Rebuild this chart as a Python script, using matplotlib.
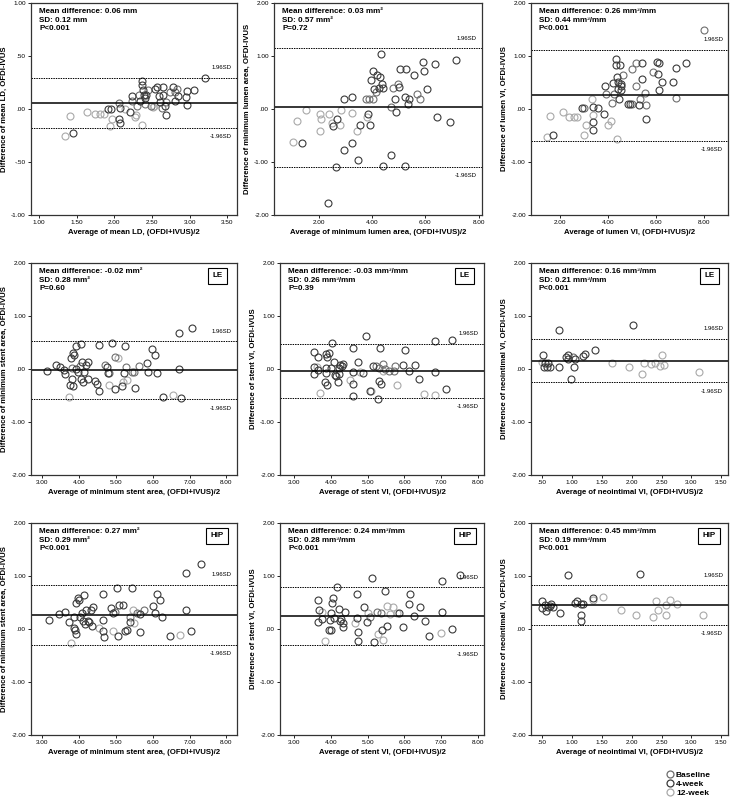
import matplotlib
matplotlib.use("Agg")
import matplotlib.pyplot as plt
from matplotlib.lines import Line2D
from matplotlib.ticker import FuncFormatter

plt.rcParams['font.family'] = ['Liberation Sans', 'DejaVu Sans']

# point groups: B = baseline, F = 4-week, T = 12-week
group_names = {"B": "Baseline", "F": "4-week", "T": "12-week"}
group_colors = {"B": "#6e6e6e", "F": "#3a3a3a", "T": "#a9a9a9"}

# (average, difference, group)
p1_pts = [(1.34,-0.25,"T"),(1.45,-0.23,"F"),(1.41,-0.07,"T"),(1.63,-0.03,"T"),(1.74,-0.05,"T"),
          (1.81,-0.05,"T"),(1.86,-0.05,"T"),(1.92,0.00,"F"),(1.95,0.00,"F"),(1.94,-0.16,"T"),
          (1.97,-0.09,"T"),(2.06,0.06,"B"),(2.07,0.01,"F"),(2.06,-0.09,"F"),(2.08,-0.13,"F"),
          (2.14,0.00,"T"),(2.21,-0.03,"F"),(2.23,0.12,"F"),(2.24,0.08,"B"),(2.27,-0.08,"T"),
          (2.28,-0.06,"T"),(2.30,0.03,"B"),(2.32,0.13,"B"),(2.34,0.08,"F"),(2.36,0.26,"F"),
          (2.37,0.23,"F"),(2.38,0.18,"F"),(2.39,0.13,"F"),(2.41,0.10,"F"),(2.41,0.05,"B"),
          (2.42,0.13,"F"),(2.37,-0.15,"T"),(2.45,0.18,"B"),(2.48,0.03,"B"),(2.51,0.02,"T"),
          (2.52,0.03,"T"),(2.54,0.19,"F"),(2.57,0.21,"F"),(2.59,0.12,"F"),(2.61,0.07,"F"),
          (2.63,0.01,"B"),(2.64,0.13,"F"),(2.65,0.21,"F"),(2.67,0.03,"F"),(2.68,-0.06,"F"),
          (2.68,0.07,"B"),(2.74,0.16,"B"),(2.78,0.21,"F"),(2.80,0.16,"B"),(2.83,0.19,"B"),
          (2.81,0.08,"F"),(2.84,0.12,"F"),(2.95,0.11,"F"),(2.97,0.17,"F"),(2.97,0.04,"F"),
          (3.06,0.18,"F"),(3.20,0.29,"F")]

p2_pts = [(1.03,-0.62,"T"),(1.35,-0.65,"F"),(1.19,-0.23,"T"),(1.53,-0.01,"T"),(2.04,-0.09,"T"),
          (2.08,-0.19,"T"),(2.04,-0.42,"T"),(2.38,-0.10,"T"),(2.50,-0.27,"T"),(2.54,-0.33,"F"),
          (2.67,-0.18,"F"),(2.64,-1.10,"F"),(2.35,-1.77,"F"),(2.83,-0.01,"T"),(2.79,-0.30,"T"),
          (2.93,0.18,"F"),(2.96,-0.77,"F"),(3.23,-0.07,"T"),(3.26,0.23,"F"),(3.26,-0.65,"F"),
          (3.42,-0.41,"T"),(3.48,-0.97,"F"),(3.54,-0.30,"F"),(3.76,0.19,"B"),(3.80,-0.16,"T"),
          (3.86,-0.09,"F"),(3.89,0.18,"B"),(3.92,-0.30,"F"),(3.95,0.55,"F"),(4.03,0.19,"B"),
          (4.05,0.72,"F"),(4.07,0.37,"F"),(4.15,0.33,"B"),(4.20,0.65,"F"),(4.26,0.39,"F"),
          (4.30,0.61,"F"),(4.33,1.03,"F"),(4.36,0.48,"F"),(4.40,0.40,"F"),(4.39,-1.07,"F"),
          (4.70,-0.87,"F"),(4.70,0.04,"B"),(4.78,0.39,"B"),(4.87,0.18,"F"),(4.91,-0.06,"F"),
          (4.97,0.47,"B"),(5.02,0.41,"F"),(5.06,0.76,"F"),(5.22,-1.07,"F"),(5.25,0.22,"F"),
          (5.27,0.76,"F"),(5.35,0.09,"F"),(5.40,0.18,"F"),(5.59,0.64,"F"),(5.69,0.29,"B"),
          (5.81,0.18,"B"),(5.90,0.89,"F"),(5.96,0.72,"F"),(6.06,0.38,"F"),(6.35,0.84,"F"),
          (6.44,-0.16,"F"),(6.91,-0.24,"F"),(7.16,0.93,"F")]

p3_pts = [(1.47,-0.52,"T"),(1.71,-0.49,"F"),(1.58,-0.14,"T"),(2.14,-0.06,"T"),(2.38,-0.15,"T"),
          (2.59,-0.15,"T"),(2.73,-0.16,"T"),(2.94,0.01,"F"),(3.01,0.01,"B"),(3.08,-0.30,"T"),
          (3.01,-0.49,"T"),(3.32,0.19,"T"),(3.38,0.04,"F"),(3.38,-0.11,"T"),(3.36,-0.24,"F"),
          (3.40,-0.40,"F"),(3.57,0.01,"F"),(3.85,-0.10,"F"),(3.92,0.29,"B"),(3.88,0.43,"F"),
          (4.02,-0.30,"T"),(4.11,-0.23,"T"),(4.16,0.11,"B"),(4.21,0.50,"F"),(4.25,0.29,"B"),
          (4.35,0.95,"F"),(4.36,0.61,"F"),(4.35,0.83,"F"),(4.39,-0.57,"T"),(4.42,0.51,"F"),
          (4.44,0.37,"F"),(4.46,0.18,"F"),(4.49,0.83,"F"),(4.53,0.48,"F"),(4.56,0.43,"F"),
          (4.56,0.36,"F"),(4.65,0.64,"B"),(5.01,0.76,"B"),(5.19,0.86,"B"),(5.15,0.43,"B"),
          (4.84,0.09,"F"),(4.91,0.09,"F"),(5.01,0.09,"B"),(5.29,0.08,"F"),(5.33,0.18,"B"),
          (5.40,0.56,"F"),(5.44,0.86,"F"),(5.54,0.31,"B"),(5.57,-0.18,"F"),(5.57,0.08,"B"),
          (5.86,0.70,"B"),(6.03,0.89,"F"),(6.13,0.87,"F"),(6.07,0.66,"F"),(6.13,0.36,"F"),
          (6.27,0.51,"F"),(6.73,0.51,"F"),(6.85,0.78,"F"),(6.85,0.21,"B"),(7.27,0.87,"F"),
          (8.00,1.50,"B")]

p4_pts = [(3.12,-0.03,"F"),(3.37,0.08,"F"),(3.48,0.04,"F"),(3.60,-0.02,"F"),(3.62,-0.09,"F"),
          (3.71,-0.52,"T"),(3.75,-0.30,"F"),(3.77,0.20,"F"),(3.80,0.01,"B"),(3.83,0.30,"F"),
          (3.80,-0.18,"F"),(3.83,-0.33,"F"),(3.87,0.27,"F"),(3.92,0.44,"F"),(3.92,0.00,"F"),
          (3.96,-0.05,"F"),(4.01,0.06,"B"),(4.05,0.47,"F"),(4.07,0.13,"F"),(4.05,-0.18,"F"),
          (4.10,-0.24,"F"),(4.12,-0.06,"F"),(4.19,0.08,"F"),(4.24,0.13,"F"),(4.23,-0.19,"F"),
          (4.44,-0.23,"F"),(4.48,-0.28,"F"),(4.54,0.46,"F"),(4.55,-0.41,"F"),(4.71,0.08,"B"),
          (4.75,0.04,"F"),(4.77,-0.08,"F"),(4.80,-0.08,"B"),(4.80,-0.30,"T"),(4.89,0.49,"F"),
          (4.96,0.22,"B"),(4.96,-0.37,"F"),(5.05,0.21,"T"),(5.16,-0.33,"F"),(5.19,-0.24,"T"),
          (5.23,-0.08,"F"),(5.25,0.44,"F"),(5.28,0.03,"B"),(5.31,-0.20,"T"),(5.43,-0.06,"B"),
          (5.48,-0.05,"B"),(5.53,-0.36,"F"),(5.62,0.06,"B"),(5.85,0.11,"F"),(5.86,-0.06,"F"),
          (5.98,0.38,"F"),(6.07,0.27,"F"),(6.12,-0.08,"F"),(6.28,-0.52,"F"),(6.55,-0.49,"T"),
          (6.71,0.68,"F"),(6.71,0.00,"F"),(6.77,-0.54,"F"),(7.07,0.77,"F")]

p5_pts = [(3.54,0.32,"F"),(3.53,0.04,"F"),(3.54,-0.09,"F"),(3.62,0.04,"T"),(3.66,-0.02,"F"),
          (3.64,0.22,"F"),(3.71,-0.45,"T"),(3.87,0.28,"F"),(3.89,0.22,"F"),(3.87,0.01,"F"),
          (3.86,-0.08,"F"),(3.84,-0.24,"F"),(3.89,-0.30,"F"),(3.96,0.30,"F"),(4.01,0.02,"F"),
          (4.04,0.50,"F"),(4.10,0.14,"F"),(4.12,-0.11,"F"),(4.14,-0.14,"F"),(4.19,-0.25,"F"),
          (4.21,-0.09,"F"),(4.22,0.01,"F"),(4.25,0.08,"F"),(4.30,0.06,"F"),(4.32,0.09,"F"),
          (4.52,-0.21,"T"),(4.59,0.39,"F"),(4.59,-0.05,"F"),(4.61,-0.28,"F"),(4.61,-0.50,"F"),
          (4.75,0.13,"F"),(4.79,-0.05,"T"),(4.88,-0.08,"F"),(4.95,0.62,"F"),(5.07,-0.41,"F"),
          (5.10,-0.41,"T"),(5.14,0.05,"F"),(5.23,0.05,"B"),(5.27,-0.56,"F"),(5.30,0.02,"B"),
          (5.31,-0.22,"F"),(5.34,0.39,"F"),(5.37,-0.28,"F"),(5.41,0.09,"B"),(5.43,-0.04,"T"),
          (5.46,0.00,"B"),(5.57,-0.04,"B"),(5.71,-0.04,"B"),(5.75,0.06,"B"),(5.79,-0.30,"T"),
          (5.95,0.08,"F"),(6.02,0.36,"F"),(6.11,-0.04,"F"),(6.28,0.08,"F"),(6.40,-0.18,"F"),
          (6.52,-0.48,"T"),(6.82,-0.49,"T"),(6.84,0.52,"F"),(6.84,-0.05,"F"),(7.13,-0.37,"F"),
          (7.29,0.55,"F")]

p6_pts = [(0.50,0.14,"T"),(0.52,0.27,"F"),(0.53,0.03,"F"),(0.56,0.11,"F"),(0.61,0.11,"F"),
          (0.59,0.03,"F"),(0.64,0.03,"F"),(0.78,0.03,"F"),(0.79,0.74,"F"),(0.91,0.22,"F"),
          (0.93,0.27,"F"),(0.93,0.18,"F"),(0.99,-0.18,"F"),(1.02,0.22,"B"),(1.03,0.04,"F"),
          (1.06,0.19,"F"),(1.19,0.25,"F"),(1.22,0.28,"F"),(1.39,0.35,"F"),(1.68,0.11,"T"),
          (1.96,0.03,"T"),(2.02,0.83,"F"),(2.17,-0.09,"T"),(2.21,0.11,"T"),(2.32,0.09,"T"),
          (2.39,0.11,"T"),(2.47,0.06,"T"),(2.50,0.27,"T"),(2.54,0.08,"T"),(3.13,-0.05,"T")]

p7_pts = [(3.19,0.17,"F"),(3.46,0.28,"F"),(3.62,0.33,"F"),(3.71,0.14,"F"),(3.77,-0.27,"T"),
          (3.86,0.01,"F"),(3.89,-0.02,"F"),(3.92,-0.09,"F"),(3.86,0.23,"F"),(3.92,0.49,"F"),
          (3.96,0.59,"F"),(4.00,0.54,"F"),(4.01,0.22,"F"),(4.07,0.30,"F"),(4.10,0.16,"F"),
          (4.14,0.65,"F"),(4.16,0.09,"F"),(4.19,0.36,"F"),(4.23,0.16,"F"),(4.26,0.13,"F"),
          (4.32,0.36,"F"),(4.35,0.06,"F"),(4.37,0.41,"F"),(4.55,0.02,"T"),(4.65,0.66,"F"),
          (4.65,0.17,"F"),(4.66,-0.04,"F"),(4.68,-0.16,"F"),(4.86,0.40,"F"),(4.91,0.30,"F"),
          (4.92,-0.04,"T"),(4.98,0.33,"B"),(5.03,0.77,"F"),(5.05,-0.14,"F"),(5.09,0.46,"F"),
          (5.19,0.45,"F"),(5.25,-0.04,"F"),(5.30,-0.01,"F"),(5.37,0.22,"B"),(5.39,0.14,"F"),
          (5.44,0.77,"F"),(5.45,0.36,"T"),(5.48,0.11,"T"),(5.57,0.31,"B"),(5.66,0.28,"F"),
          (5.66,-0.06,"F"),(5.75,0.35,"B"),(6.01,0.44,"F"),(6.05,0.31,"F"),(6.12,0.66,"F"),
          (6.21,0.54,"F"),(6.25,0.23,"F"),(6.46,-0.13,"F"),(6.75,-0.11,"T"),(6.89,0.36,"F"),
          (6.89,1.06,"F"),(7.03,-0.03,"F"),(7.32,1.23,"F")]

p8_pts = [(3.64,0.55,"F"),(3.64,0.13,"F"),(3.68,0.35,"F"),(3.75,0.33,"T"),(3.75,0.18,"F"),
          (3.83,-0.23,"T"),(3.95,-0.01,"F"),(4.01,-0.01,"F"),(3.98,0.17,"F"),(4.01,0.31,"F"),
          (4.03,0.50,"F"),(4.07,0.58,"F"),(4.10,0.20,"F"),(4.16,0.80,"F"),(4.21,0.37,"F"),
          (4.25,0.15,"F"),(4.28,0.18,"F"),(4.32,0.04,"F"),(4.34,0.11,"F"),(4.39,0.33,"F"),
          (4.66,0.12,"T"),(4.71,0.66,"F"),(4.71,0.20,"F"),(4.73,-0.06,"F"),(4.75,-0.23,"F"),
          (4.89,0.42,"F"),(4.98,0.14,"F"),(5.00,0.31,"T"),(5.07,0.22,"B"),(5.11,0.96,"F"),
          (5.16,-0.25,"F"),(5.28,-0.10,"T"),(5.25,0.33,"B"),(5.37,0.31,"B"),(5.39,-0.02,"F"),
          (5.41,-0.20,"T"),(5.48,0.72,"F"),(5.52,0.06,"F"),(5.52,0.44,"T"),(5.61,0.28,"T"),
          (5.70,0.41,"T"),(5.79,0.30,"T"),(5.86,0.31,"F"),(5.95,0.04,"F"),(6.11,0.47,"F"),
          (6.16,0.66,"F"),(6.25,0.25,"F"),(6.41,0.42,"F"),(6.55,0.16,"F"),(6.66,-0.14,"F"),
          (7.00,-0.08,"T"),(7.02,0.33,"F"),(7.02,0.91,"F"),(7.29,0.00,"F"),(7.52,1.02,"F")]

p9_pts = [(0.51,0.39,"F"),(0.50,0.53,"F"),(0.56,0.46,"F"),(0.57,0.34,"F"),(0.61,0.41,"F"),
          (0.63,0.44,"F"),(0.65,0.48,"F"),(0.68,0.41,"F"),(0.81,0.31,"F"),(0.93,1.02,"F"),
          (1.06,0.50,"F"),(1.09,0.53,"F"),(1.15,0.48,"F"),(1.16,0.27,"F"),(1.16,0.16,"F"),
          (1.19,0.47,"F"),(1.35,0.54,"T"),(1.36,0.58,"F"),(1.52,0.61,"T"),(1.82,0.36,"T"),
          (2.07,0.27,"T"),(2.14,1.04,"F"),(2.35,0.23,"T"),(2.41,0.52,"T"),(2.44,0.36,"T"),
          (2.57,0.45,"T"),(2.58,0.27,"T"),(2.64,0.54,"T"),(2.75,0.48,"T"),(3.20,0.26,"T")]

# summary statistics printed in each panel
mean_diff = [0.06, 0.03, 0.26, -0.02, -0.03, 0.16, 0.27, 0.24, 0.45]
sd_diff = [0.12, 0.57, 0.44, 0.28, 0.26, 0.21, 0.29, 0.28, 0.19]
p_text = ["P<0.001", "P=0.72", "P<0.001", "P=0.60", "P=0.39", "P<0.001",
          "P<0.001", "P<0.001", "P<0.001"]
units = ["mm", "mm\u00b2", "mm\u00b3/mm", "mm\u00b2", "mm\u00b3/mm", "mm\u00b3/mm",
         "mm\u00b2", "mm\u00b3/mm", "mm\u00b3/mm"]
tags = [None, None, None, "LE", "LE", "LE", "HIP", "HIP", "HIP"]
measures = ["mean LD", "minimum lumen area", "lumen VI",
            "minimum stent area", "stent VI", "neointimal VI",
            "minimum stent area", "stent VI", "neointimal VI"]
all_pts = [p1_pts, p2_pts, p3_pts, p4_pts, p5_pts, p6_pts, p7_pts, p8_pts, p9_pts]

# layout (pixel boxes: left, top, right, bottom) and axis ranges
W, H = 738, 802
boxes = [(31, 3, 237, 215), (274, 3, 482, 215), (531, 3, 728, 215),
         (31, 263, 237, 475), (280, 263, 484, 475), (531, 263, 728, 475),
         (31, 523, 237, 735), (280, 523, 484, 735), (531, 523, 728, 735)]
xlims = [(0.89, 3.63), (0.31, 8.13), (0.80, 9.0),
         (2.69, 8.29), (2.62, 8.16), (0.32, 3.61),
         (2.69, 8.29), (2.62, 8.16), (0.32, 3.61)]
xticks = [[1.0, 1.5, 2.0, 2.5, 3.0, 3.5], [2, 4, 6, 8], [2, 4, 6, 8],
          [3, 4, 5, 6, 7, 8], [3, 4, 5, 6, 7, 8], [0.5, 1.0, 1.5, 2.0, 2.5, 3.0, 3.5],
          [3, 4, 5, 6, 7, 8], [3, 4, 5, 6, 7, 8], [0.5, 1.0, 1.5, 2.0, 2.5, 3.0, 3.5]]


def spss_fmt(v, pos):
    s = f"{v:.2f}"
    if s.lstrip("-").startswith("0."):
        s = s.replace("0.", ".", 1)
    return s


fig = plt.figure(figsize=(W / 100, H / 100), dpi=100)

for i in range(9):
    l, t, r, b = boxes[i]
    ax = fig.add_axes([l / W, 1 - b / H, (r - l) / W, (b - t) / H])
    for g in ["T", "B", "F"]:
        xs = [p[0] for p in all_pts[i] if p[2] == g]
        ys = [p[1] for p in all_pts[i] if p[2] == g]
        ax.plot(xs, ys, ls="none", marker="o", ms=5, mfc="none",
                mec=group_colors[g], mew=0.8)

    m, sd = mean_diff[i], sd_diff[i]
    hi, lo = m + 1.96 * sd, m - 1.96 * sd
    ax.axhline(m, color="black", lw=1.1)
    ax.axhline(hi, color="black", lw=0.7, ls=(0, (1.5, 1)))
    ax.axhline(lo, color="black", lw=0.7, ls=(0, (1.5, 1)))
    ax.annotate("1.96SD", xy=(0.975, hi), xycoords=("axes fraction", "data"),
                xytext=(0, 7), textcoords="offset points", ha="right", va="center",
                fontsize=4.3)
    ax.annotate("-1.96SD", xy=(0.975, lo), xycoords=("axes fraction", "data"),
                xytext=(0, -6.5), textcoords="offset points", ha="right", va="center",
                fontsize=4.3)

    ax.text(0.04, 0.975,
            f"Mean difference: {m:.2f} {units[i]}\nSD: {sd:.2f} {units[i]}\n{p_text[i]}",
            transform=ax.transAxes, ha="left", va="top", fontsize=5.8,
            fontweight="bold", linespacing=1.25)
    if tags[i]:
        ax.text(0.905, 0.94, tags[i], transform=ax.transAxes, ha="center", va="center",
                fontsize=5.8, fontweight="bold",
                bbox=dict(boxstyle="square,pad=0.55", fc="white", ec="black", lw=0.8))

    ax.set_xlim(*xlims[i])
    ylim = 1.0 if i == 0 else 2.0
    ax.set_ylim(-ylim, ylim)
    ax.set_xticks(xticks[i])
    ax.set_yticks([-1, -0.5, 0, 0.5, 1] if i == 0 else [-2, -1, 0, 1, 2])
    ax.xaxis.set_major_formatter(FuncFormatter(spss_fmt))
    ax.yaxis.set_major_formatter(FuncFormatter(spss_fmt))
    ax.tick_params(labelsize=4.6, length=2.2, width=0.6, pad=1.5, direction="out")
    for sp in ax.spines.values():
        sp.set_linewidth(0.9)
        sp.set_color("#333333")

    ax.set_xlabel(f"Average of {measures[i]}, (OFDI+IVUS)/2", fontsize=5.6,
                  fontweight="bold", labelpad=3)
    ax.set_ylabel(f"Difference of {measures[i]}, OFDI-IVUS", fontsize=5.6,
                  fontweight="bold", labelpad=2)

handles = [Line2D([], [], ls="none", marker="o", ms=5, mfc="none",
                  mec=group_colors[g], mew=0.9) for g in ["B", "F", "T"]]
fig.legend(handles, [group_names[g] for g in ["B", "F", "T"]],
           loc="upper left", bbox_to_anchor=(666 / W, 1 - 771 / H), frameon=False,
           prop={"size": 6, "weight": "bold"}, handletextpad=0.2, labelspacing=0.15,
           handlelength=1.0, borderpad=0, borderaxespad=0)

fig.savefig("out.png", dpi=100)
